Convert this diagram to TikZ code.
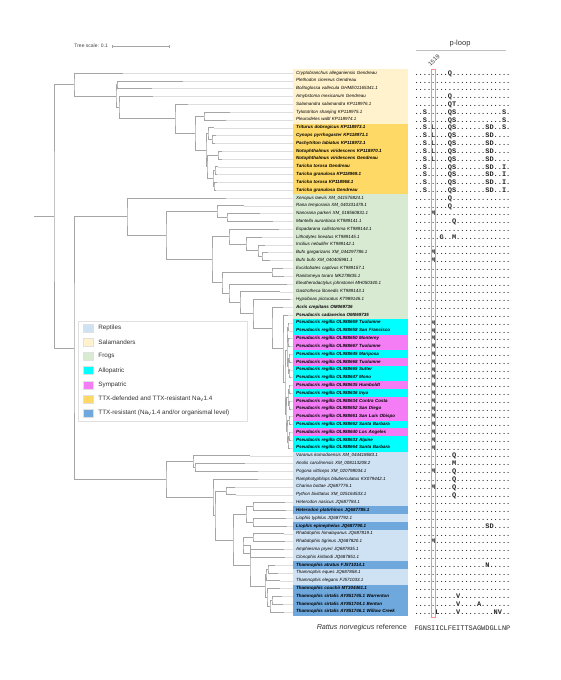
\documentclass[tikz,border=0pt]{standalone}
\usepackage{fontspec}
\setmainfont{Liberation Sans}
\setmonofont{Liberation Mono}
\usetikzlibrary{calc,positioning}
\definecolor{rep}{RGB}{207,226,243}
\definecolor{sal}{RGB}{255,242,204}
\definecolor{frog}{RGB}{217,234,211}
\definecolor{allo}{RGB}{0,255,255}
\definecolor{symp}{RGB}{244,124,244}
\definecolor{ttx}{RGB}{255,217,102}
\definecolor{res}{RGB}{111,168,220}
\definecolor{branchc}{RGB}{165,165,165}
\definecolor{leadc}{RGB}{222,222,222}

% internal node: name, x, first child, last child
\newcommand{\clade}[4]{%
  \coordinate (#1m) at ($(#3)!.5!(#4)$);
  \coordinate (#1) at (#2,0 |- #1m);
  \draw[branch] (#3) -| (#1) |- (#4);}

\begin{document}
\begin{tikzpicture}[x=1pt,y=-1pt,
  branch/.style={draw=branchc,line width=0.6pt},
  lead/.style={draw=leadc,line width=0.3pt},
  lab/.style={anchor=west,minimum width=115pt,minimum height=7.81pt,text width=109pt,inner xsep=3pt,inner ysep=0pt,align=left,text height=3.2pt,text depth=1.1pt,font=\fontsize{4.5}{5}\selectfont\itshape},
  bl/.style={font=\fontsize{4.5}{5}\selectfont\bfseries\itshape},
  salbox/.style={fill=sal},
  ttxbox/.style={fill=ttx,bl},
  frogbox/.style={fill=frog},
  frogbold/.style={fill=frog,bl},
  allobox/.style={fill=allo,bl},
  sympbox/.style={fill=symp,bl},
  repbox/.style={fill=rep},
  resbox/.style={fill=res,bl},
  seq/.style={anchor=west,inner sep=0pt,text height=4.6pt,text depth=0pt,font=\fontsize{6.95}{7}\selectfont\ttfamily\bfseries,text=black!85},
  key/.style={minimum width=10pt,minimum height=8pt,inner sep=0pt,draw=black!12},
  keytext/.style={anchor=west,inner sep=0pt,font=\fontsize{6.3}{7}\selectfont,text=black!80}
]
\useasboundingbox (0,0) rectangle (560,680);

\node[font=\fontsize{5}{6}\selectfont,anchor=east,inner sep=0pt,text=black!75] (tscale) at (108,46) {Tree scale: 0.1};
\coordinate (sb0) at (112,46);
\coordinate (sb1) at (169,46);
\draw[branchc,line width=0.5pt] (sb0) -- (sb1) (sb0) ++(0,-1.5) -- ++(0,3) (sb1) ++(0,-1.5) -- ++(0,3);

\node[font=\fontsize{7.5}{8}\selectfont,text=black!80] (ploop) at (460,44) {p-loop};
\coordinate (pl0) at (416,50.5);
\coordinate (pl1) at (506,50.5);
\draw[black!25,line width=1.3pt] (pl0) -- (pl1);
\node[rotate=45,font=\fontsize{6}{7}\selectfont,text=black!80,inner sep=0pt] (site) at (434,60.5) {1519};

\foreach \i/\x/\s/\t/\q in {
1/123/salbox/Cryptobranchus alleganiensis Gendreau/{........Q..............},
2/183/salbox/Plethodon cinereus Gendreau/{.......................},
3/152/salbox/Bolitoglossa vallecula GHME01165341.1/{.......................},
4/153/salbox/Amybstoma mexicanum Gendreau/{........Q..............},
5/188/salbox/Salamandra salamandra KP118976.1/{........QT.............},
6/230/salbox/Tylototriton shanjing KP118975.1/{..S.....QS...........S.},
7/226/salbox/Pleurodeles waltl KP118974.1/{..S.....QS...........S.},
8/214/ttxbox/Triturus dobrogicus KP118973.1/{..S.L...QS.......SD..S.},
9/216/ttxbox/Cynops pyrrhogaster KP118971.1/{..S.L...QS.......SD....},
10/215/ttxbox/Pachytriton labiatus KP118972.1/{..S.L...QS.......SD....},
11/222/ttxbox/Notophthalmus viridescens KP118970.1/{..S.L...QS.......SD....},
12/222/ttxbox/Notophthalmus viridescens Gendreau/{..S.L...QS.......SD....},
13/218/ttxbox/Taricha torosa Gendreau/{..S.....QS.......SD..I.},
14/217/ttxbox/Taricha granulosa KP118969.1/{..S.....QS.......SD..I.},
15/217/ttxbox/Taricha torosa KP118968.1/{..S.....QS.......SD..I.},
16/216/ttxbox/Taricha granulosa Gendreau/{..S.....QS.......SD..I.},
17/226/frogbox/Xenopus laevis XM\_041576824.1/{........Q..............},
18/244/frogbox/Rana temporaria XM\_040331478.1/{........Q..............},
19/260/frogbox/Nanorana parkeri XM\_018560831.1/{....M..................},
20/273/frogbox/Mantella aurantiaca KT989141.1/{.........Q.............},
21/279/frogbox/Espadarana callistomma KT989144.1/{.......................},
22/262/frogbox/Lithodytes lineatus KT989145.1/{......G..M.............},
23/265/frogbox/Incilius nebulifer KT989142.1/{.......................},
24/268/frogbox/Bufo gargarizans XM\_044297786.1/{....M..................},
25/270/frogbox/Bufo bufo XM\_040405981.1/{....M..................},
26/283/frogbox/Excidobates captivus KT989157.1/{.......................},
27/284/frogbox/Ranitomeya toraro MK278835.1/{.......................},
28/287/frogbox/Eleutherodactylus johnstonei MH050340.1/{.......................},
29/280/frogbox/Gastrotheca litonedis KT989143.1/{.......................},
30/290/frogbox/Hypsiboas picturatus KT989146.1/{.......................},
31/283/frogbold/Acris crepitans OM069736/{.......................},
32/288/frogbold/Pseudacris cadaverina OM069735/{.......................},
33/289/allobox/Pseudacris regilla OL988669 Tuolumne/{....M..................},
34/289/allobox/Pseudacris regilla OL988658 San Francisco/{....M..................},
35/290/sympbox/Pseudacris regilla OL988650 Monterey/{....M..................},
36/290/sympbox/Pseudacris regilla OL988667 Tuolumne/{....M..................},
37/290/allobox/Pseudacris regilla OL988645 Mariposa/{....M..................},
38/291/sympbox/Pseudacris regilla OL988668 Tuolumne/{....M..................},
39/290/allobox/Pseudacris regilla OL988665 Sutter/{....M..................},
40/291/allobox/Pseudacris regilla OL988647 Mono/{....M..................},
41/290/sympbox/Pseudacris regilla OL988635 Humboldt/{....M..................},
42/291/allobox/Pseudacris regilla OL988636 Inyo/{....M..................},
43/290/sympbox/Pseudacris regilla OL988634 Contra Costa/{....M..................},
44/291/sympbox/Pseudacris regilla OL988652 San Diego/{....M..................},
45/290/sympbox/Pseudacris regilla OL988661 San Luis Obispo/{....M..................},
46/291/allobox/Pseudacris regilla OL988662 Santa Barbara/{....M..................},
47/290/sympbox/Pseudacris regilla OL988640 Los Angeles/{....M..................},
48/291/allobox/Pseudacris regilla OL988633 Alpine/{....M..................},
49/290/allobox/Pseudacris regilla OL988664 Santa Barbara/{....M..................},
50/250/repbox/Varanus komodoensis XM\_044418683.1/{.........Q.............},
51/245/repbox/Anolis carolinensis XM\_008113208.2/{.........M.............},
52/258/repbox/Pogona vitticeps XM\_020798034.1/{....M....Q.............},
53/258/repbox/Ramphotyphlops bituberculatus KX079442.1/{.........Q.............},
54/235/repbox/Charina bottae JQ687776.1/{....M....Q.............},
55/236/repbox/Python bivittatus XM\_025164533.1/{.........Q.............},
56/285/repbox/Heterodon nasicus JQ687784.1/{.......................},
57/286/resbox/Heterodon platirhinos JQ687785.1/{.......................},
58/286/repbox/Liophis typhlus JQ687792.1/{.......................},
59/287/resbox/Liophis epinephelus JQ687790.1/{.................SD....},
60/284/repbox/Rhabdophis himalayanus JQ687819.1/{.......................},
61/285/repbox/Rhabdophis tigrinus JQ687820.1/{....M..................},
62/284/repbox/Amphiesma pryeri JQ687835.1/{.......................},
63/285/repbox/Clonophis kirtlandi JQ687851.1/{.......................},
64/275/resbox/Thamnophis atratus FJ571014.1/{.................N.....},
65/278/repbox/Thamnophis eques JQ687858.1/{.......................},
66/280/repbox/Thamnophis elegans FJ571033.1/{.......................},
67/280/resbox/Thamnophis couchii MT304461.1/{.......................},
68/282/resbox/Thamnophis sirtalis AY851745.1 Warrenton/{..........V............},
69/283/resbox/Thamnophis sirtalis AY851744.1 Benton/{..........V....A.......},
70/284/resbox/Thamnophis sirtalis AY851746.1 Willow Creek/{.....L....V........NV..}}
{
  \coordinate (t\i) at (\x,{73+7.81*(\i-1)});
  \node[lab,\s] (l\i) at (293,{73+7.81*(\i-1)}) {\mbox{\t}};
  \node[seq] (q\i) at (414.3,{73+7.81*(\i-1)}) {\q};
  \draw[lead] (t\i) -- (l\i.west);
}

% salamanders
\clade{c23}{117}{t2}{t3}
\clade{h67}{204}{t6}{t7}
\clade{j910}{212}{t9}{t10}
\clade{j810}{208}{t8}{j910}
\clade{l1112}{218}{t11}{t12}
\clade{m1314}{215}{t13}{t14}
\clade{m1516}{214}{t15}{t16}
\clade{m1316}{213}{m1314}{m1516}
\clade{k1116}{207}{l1112}{m1316}
\clade{i816}{206}{j810}{k1116}
\clade{g616}{195}{h67}{i816}
\clade{d516}{175}{t5}{g616}
\clade{e416}{119}{t4}{d516}
\clade{f216}{116}{c23}{e416}
\clade{asal}{74}{t1}{f216}
% frogs
\clade{n1920}{227}{t19}{t20}
\clade{ran}{217}{t18}{n1920}
\clade{s2425}{262}{t24}{t25}
\clade{s2325}{258}{t23}{s2425}
\clade{r2225}{246}{t22}{s2325}
\clade{q2125}{229}{t21}{r2225}
\clade{u2627}{272}{t26}{t27}
\clade{p3334}{288}{t33}{t34}
\clade{p3536}{288}{t35}{t36}
\clade{p3336}{287}{p3334}{p3536}
\clade{p3738}{289}{t37}{t38}
\clade{p3940}{289}{t39}{t40}
\clade{p3740}{288}{p3738}{p3940}
\clade{p3340}{287}{p3336}{p3740}
\clade{p4142}{289}{t41}{t42}
\clade{p4344}{289}{t43}{t44}
\clade{p4144}{288}{p4142}{p4344}
\clade{p4546}{289}{t45}{t46}
\clade{p4748}{289}{t47}{t48}
\clade{p4749}{288}{p4748}{t49}
\clade{p4549}{287}{p4546}{p4749}
\clade{p4149}{286}{p4144}{p4549}
\clade{preg}{285}{p3340}{p4149}
\clade{z3249}{283}{t32}{preg}
\clade{y3149}{272}{t31}{z3249}
\clade{x3049}{253}{t30}{y3149}
\clade{w2949}{240}{t29}{x3049}
\clade{v2849}{229}{t28}{w2949}
\clade{t2649}{222}{u2627}{v2849}
\clade{p2149}{212}{q2125}{t2649}
\clade{o1849}{166}{ran}{p2149}
\clade{frogs}{127}{t17}{o1849}
% reptiles
\clade{an5152}{195}{t51}{t52}
\clade{lz5052}{193}{t50}{an5152}
\clade{bo5455}{226}{t54}{t55}
\clade{he5657}{253}{t56}{t57}
\clade{li5859}{253}{t58}{t59}
\clade{hl5659}{246}{he5657}{li5859}
\clade{rh6061}{253}{t60}{t61}
\clade{ac6263}{250}{t62}{t63}
\clade{ra6063}{243}{rh6061}{ac6263}
\clade{th6465}{268}{t64}{t65}
\clade{th6466}{266}{th6465}{t66}
\clade{th6869}{272}{t68}{t69}
\clade{th6870}{270}{th6869}{t70}
\clade{th6770}{267}{t67}{th6870}
\clade{th6470}{265}{th6466}{th6770}
\clade{rt6070}{250}{ra6063}{th6470}
\clade{col5670}{233}{hl5659}{rt6070}
\clade{sn5470}{215}{bo5455}{col5670}
\clade{sn5370}{213}{t53}{sn5470}
\clade{reptiles}{166}{lz5052}{sn5370}
% root
\clade{fr}{74}{frogs}{reptiles}
\clade{root}{54}{asal}{fr}
\coordinate (root0) at (34,0 |- root);
\draw[branch] (root0) -- (root);

\node[draw=black!12,fill=white,minimum width=169pt,minimum height=100pt,anchor=north west] (legend) at (78,321) {};
\foreach \k/\c/\txt in {0/rep/Reptiles,1/sal/Salamanders,2/frog/Frogs,3/allo/Allopatric,4/symp/Sympatric,
  5/ttx/{TTX-defended and TTX-resistant Na\textsubscript{V}1.4},
  6/res/{TTX-resistant (Na\textsubscript{V}1.4 and/or organismal level)}}
{
  \node[key,fill=\c] (k\k) at (88,{328+14.2*\k}) {};
  \node[keytext,right=5pt of k\k] (kt\k) {\txt};
}

\draw[red!45,line width=0.5pt] (430.8,69) rectangle (435.4,617);

\node[font=\fontsize{7.2}{8}\selectfont,anchor=east,inner sep=0pt,text=black!80] (refname) at (407,628) {\textit{Rattus norvegicus} reference};
\node[seq,font=\fontsize{6.95}{7}\selectfont\ttfamily] (refseq) at (414.3,628) {FGNSIICLFEITTSAGWDGLLNP};
\end{tikzpicture}
\end{document}
